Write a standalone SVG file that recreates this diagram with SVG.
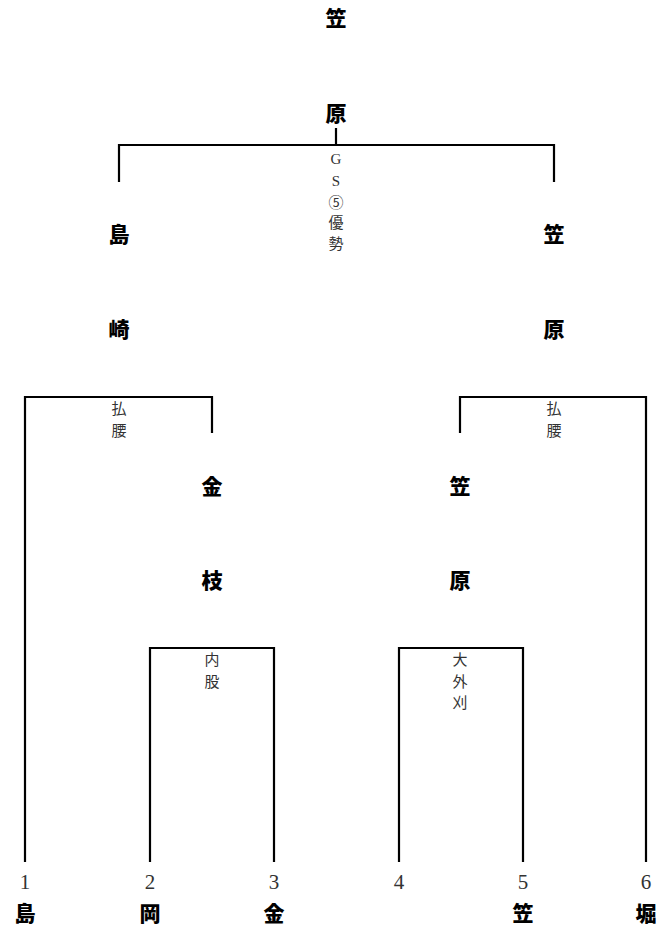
<svg xmlns="http://www.w3.org/2000/svg" width="662" height="928" viewBox="0 0 662 928">
<style>
.n{font-family:"Noto Sans CJK JP","Noto Sans CJK SC",sans-serif;font-weight:900;font-size:21px;text-anchor:middle;dominant-baseline:central;fill:#000}
.l{font-family:"Liberation Serif","Noto Sans CJK JP",serif;font-size:15px;text-anchor:middle;dominant-baseline:central;fill:#333}
.d{font-family:"Liberation Serif",serif;font-size:21px;text-anchor:middle;fill:#333}
.c{fill:none;stroke:#000;stroke-width:2.2}
</style>
<rect width="662" height="928" fill="#fff"/>
<g id="connectors">
<path class="c" d="M336 128V145M119 182V145H554V182"/>
<path class="c" d="M25 862V397H212V433"/>
<path class="c" d="M460 433V397H646V862"/>
<path class="c" d="M150 862V648H274V862"/>
<path class="c" d="M399 862V648H523V862"/>
</g>
<g id="winner"><text class="n" x="336" y="17">笠</text><text class="n" x="336" y="112">原</text></g>
<g id="final-label"><text class="l" x="336" y="159">G</text><text class="l" x="336" y="181">S</text><text class="l" x="336" y="203">⑤</text><text class="l" x="336" y="223">優</text><text class="l" x="336" y="244">勢</text></g>
<g id="semi-left"><text class="n" x="119" y="233">島</text><text class="n" x="119" y="328">崎</text></g>
<g id="semi-right"><text class="n" x="554" y="233">笠</text><text class="n" x="554" y="328">原</text></g>
<g id="label-left"><text class="l" x="119" y="409">払</text><text class="l" x="119" y="431">腰</text></g>
<g id="label-right"><text class="l" x="554" y="409">払</text><text class="l" x="554" y="431">腰</text></g>
<g id="qf-left"><text class="n" x="212" y="485">金</text><text class="n" x="212" y="579">枝</text></g>
<g id="qf-right"><text class="n" x="460" y="485">笠</text><text class="n" x="460" y="579">原</text></g>
<g id="label-qf-left"><text class="l" x="212" y="660">内</text><text class="l" x="212" y="682">股</text></g>
<g id="label-qf-right"><text class="l" x="460" y="660">大</text><text class="l" x="460" y="682">外</text><text class="l" x="460" y="703">刈</text></g>
<g id="p1"><text class="d" x="25" y="889">1</text><text class="n" x="25" y="912">島</text></g>
<g id="p2"><text class="d" x="150" y="889">2</text><text class="n" x="150" y="912">岡</text></g>
<g id="p3"><text class="d" x="274" y="889">3</text><text class="n" x="274" y="912">金</text></g>
<g id="p4"><text class="d" x="399" y="889">4</text></g>
<g id="p5"><text class="d" x="523" y="889">5</text><text class="n" x="523" y="912">笠</text></g>
<g id="p6"><text class="d" x="646" y="889">6</text><text class="n" x="646" y="912">堀</text></g>
</svg>
